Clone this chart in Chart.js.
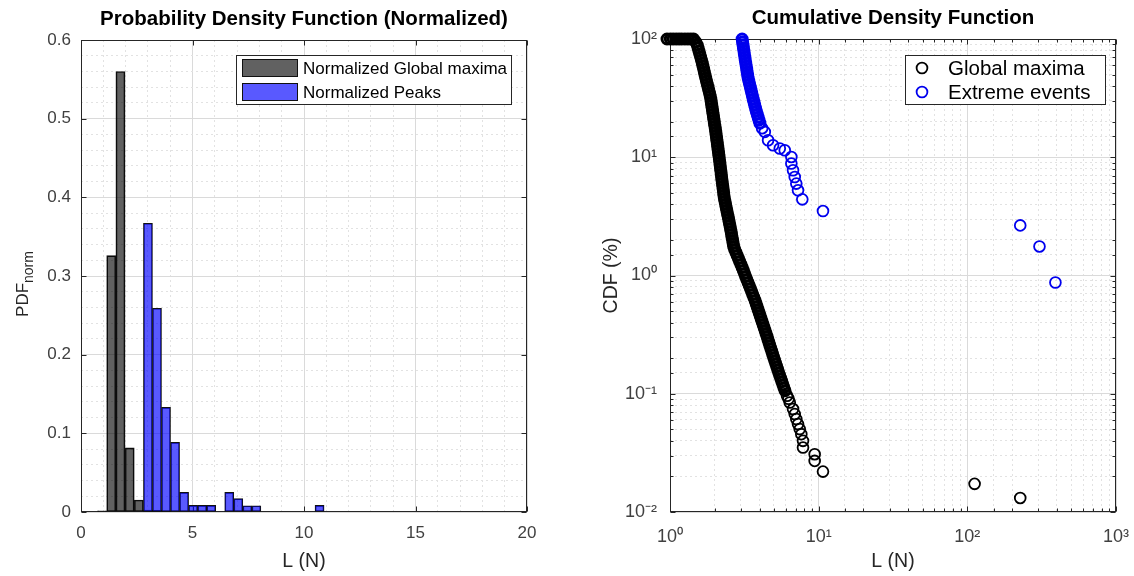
<!DOCTYPE html>
<html>
<head>
<meta charset="utf-8">
<title>PDF and CDF of L</title>
<script src="https://cdn.jsdelivr.net/npm/chart.js@4.4.1/dist/chart.umd.min.js"></script>
<style>
  html, body { margin: 0; padding: 0; background: #fff; }
  #wrap { position: relative; width: 1134px; height: 576px; }
  #wrap canvas { position: absolute; top: 0; }
  #pdfChart { left: 0; }
  #cdfChart { left: 567px; }
</style>
</head>
<body>
<div id="wrap">
  <canvas id="pdfChart" width="567" height="576"></canvas>
  <canvas id="cdfChart" width="567" height="576"></canvas>
</div>
<script>
// ---- histogram (left): bin centres in N and normalised pdf ----
const gmBinCenters = [0.946, 1.358, 1.770, 2.182, 2.594, 3.006, 3.418, 3.830];
const gmPdf = [0.0015, 0.326, 0.560, 0.0815, 0.0152, 0.0025, 0.002, 0.001];

const peakBinCenters = [3.0025, 3.4075, 3.8125, 4.2175, 4.6225, 5.0275, 5.4325, 5.8375,
  6.6475, 7.0525, 7.4575, 7.8625, 10.6975];
const peakPdf = [0.367, 0.259, 0.133, 0.0886, 0.025, 0.0085, 0.0085, 0.0085,
  0.025, 0.017, 0.008, 0.008, 0.0085];

// ---- CDF (right): load L (N) and CDF in % ----
const gmL = [
  0.955, 1.005, 1.05, 1.10, 1.15, 1.20, 1.26, 1.32, 1.38, 1.44,
  1.490, 1.525, 1.545, 1.565, 1.585, 1.606, 1.627, 1.648, 1.665, 1.684,
  1.702, 1.720, 1.739, 1.759, 1.780, 1.802, 1.821, 1.844, 1.864, 1.882,
  1.896, 1.908, 1.923, 1.935, 1.950, 1.962, 1.977, 1.989, 2.005, 2.020,
  2.033, 2.045, 2.058, 2.071, 2.084, 2.097, 2.110, 2.123, 2.136, 2.149,
  2.163, 2.174, 2.186, 2.200, 2.213, 2.224, 2.237, 2.251, 2.265, 2.279,
  2.293, 2.304, 2.321, 2.343, 2.365, 2.387, 2.409, 2.432, 2.459, 2.481,
  2.504, 2.527, 2.551, 2.575, 2.595, 2.615, 2.639, 2.660, 2.680, 2.722,
  2.777, 2.829, 2.886, 2.940, 3.000, 3.056, 3.113, 3.172, 3.226, 3.287,
  3.349, 3.411, 3.475, 3.540, 3.601, 3.668, 3.737, 3.795, 3.854, 3.914,
  3.975, 4.037, 4.100, 4.164, 4.229, 4.295, 4.362, 4.430, 4.499, 4.562,
  4.633, 4.698, 4.771, 4.846, 4.913, 4.990, 5.067, 5.146, 5.227, 5.308,
  5.391, 5.475, 5.569, 5.655, 5.751, 5.841, 5.941,
  6.128, 6.271, 6.389, 6.723, 6.902, 7.073, 7.262, 7.456, 7.643, 7.846,
  7.846, 9.400, 9.400, 10.69, 111.9, 226.9
];
const gmCdf = [
  100, 100, 100, 100, 100, 100, 100, 100, 100, 100,
  94.32, 88.96, 83.90, 79.14, 74.64, 70.40, 66.40, 62.63, 59.07, 55.71,
  52.53, 49.54, 46.73, 44.07, 41.57, 39.21, 36.98, 34.88, 32.90, 31.00,
  29.24, 27.58, 26.01, 24.53, 23.14, 21.82, 20.58, 19.41, 18.31, 17.28,
  16.30, 15.37, 14.50, 13.67, 12.90, 12.16, 11.47, 10.82, 10.21, 9.617,
  9.071, 8.555, 8.069, 7.611, 7.178, 6.770, 6.386, 6.023, 5.681, 5.356,
  5.052, 4.765, 4.494, 4.239, 3.998, 3.771, 3.556, 3.354, 3.164, 2.983,
  2.814, 2.654, 2.503, 2.361, 2.227, 2.100, 1.981, 1.868, 1.762, 1.661,
  1.567, 1.478, 1.394, 1.315, 1.240, 1.170, 1.103, 1.040, 0.981, 0.925,
  0.8724, 0.8228, 0.7761, 0.7320, 0.6904, 0.6512, 0.6142, 0.5793, 0.5464, 0.5150,
  0.4857, 0.4581, 0.4321, 0.4076, 0.3844, 0.3626, 0.3420, 0.3225, 0.3042, 0.2868,
  0.2705, 0.2551, 0.2406, 0.2270, 0.2141, 0.2019, 0.1904, 0.1796, 0.1694, 0.1597,
  0.1506, 0.1421, 0.1340, 0.1264, 0.1192, 0.1124, 0.1060,
  0.09617, 0.09072, 0.08435, 0.07420, 0.06730, 0.06104, 0.05536, 0.05022, 0.04555, 0.03996,
  0.03507, 0.03083, 0.02704, 0.02196, 0.0173, 0.01315
];

const eeL = [
  3.056, 3.075, 3.099, 3.118, 3.143, 3.162, 3.187, 3.206, 3.231, 3.256,
  3.281, 3.302, 3.328, 3.354, 3.390, 3.427, 3.470, 3.507, 3.545, 3.584,
  3.628, 3.673, 3.713, 3.760, 3.806, 3.860, 3.914, 3.968, 4.024,
  4.164, 4.341, 4.569, 4.935, 5.475, 5.913, 6.550, 6.550, 6.723, 6.902,
  7.073, 7.262, 7.761, 10.69, 226.9, 305.7, 391.3
];
const eeCdf = [
  100, 94.32, 88.96, 83.90, 79.14, 74.64, 70.40, 66.40, 62.63, 59.07,
  55.71, 52.53, 49.54, 46.73, 44.07, 41.57, 39.21, 36.98, 34.88, 32.90,
  31.00, 29.24, 27.58, 26.01, 24.53, 23.14, 21.82, 20.58, 19.41,
  17.61, 16.39, 13.93, 12.64, 11.85, 11.47, 10.06, 8.845, 7.759, 6.809,
  5.987, 5.252, 4.406, 3.507, 2.653, 1.761, 0.8724
];

const pdfXTicks = { min: 0, max: 20, step: 1, major: 5 };
const pdfYTicks = { min: 0, max: 0.6, step: 0.02, major: 0.1 };

// ---- look ----
const FAMILY = '"Liberation Sans", Arial, Helvetica, sans-serif';
Chart.defaults.font.family = FAMILY;
Chart.defaults.animation = false;

const axisInk = '#262626';
const tickInk = '#404040';
const gridMajor = '#dadada';
const gridMinor = '#e2e2e2';

const onStep = (v, s) => Math.abs(v / s - Math.round(v / s)) < 1e-6;
const isDecade = v => Math.abs(Math.log10(v) - Math.round(Math.log10(v))) < 1e-6;
const supDigits = { '-': '\u207B', '0': '\u2070', '1': '\u00B9', '2': '\u00B2', '3': '\u00B3' };
const decadeLabel = v => isDecade(v)
  ? '10' + String(Math.round(Math.log10(v))).split('').map(c => supDigits[c]).join('')
  : '';

function gridStyle(isMajor) {
  return {
    grid: {
      offset: false,
      drawTicks: false,
      color: ctx => (ctx.tick && isMajor(ctx.tick.value)) ? gridMajor : gridMinor
    },
    border: {
      display: false,
      dash: ctx => (ctx.tick && !isMajor(ctx.tick.value)) ? [2, 3] : []
    }
  };
}

// keep the plot box exactly where the layout puts it (no label overflow padding)
const fixedBox = size => s => {
  if (s.isHorizontal()) s.height = size; else s.width = size;
  s.paddingLeft = 0;
  s.paddingRight = 0;
  s.paddingTop = 0;
  s.paddingBottom = 0;
};

// axes box like matlab "box on", with inward tick marks
const axesFrame = {
  id: 'axesFrame',
  beforeDatasetsDraw(chart, args, o) {
    const { ctx, chartArea: a } = chart;
    const L = a.left + 0.5, R = a.right - 0.5, T = a.top + 0.5, B = a.bottom - 0.5;
    ctx.save();
    ctx.strokeStyle = axisInk;
    ctx.lineWidth = 1;
    ctx.beginPath();
    const sx = chart.scales.x, sy = chart.scales.y;
    sx.ticks.forEach((t, i) => {
      const major = t.label !== '';
      if (!major && !o.minor) return;
      const len = major ? 5 : 3;
      const px = Math.round(sx.getPixelForTick(i)) + 0.5;
      ctx.moveTo(px, B); ctx.lineTo(px, B - len);
      ctx.moveTo(px, T); ctx.lineTo(px, T + len);
    });
    sy.ticks.forEach((t, i) => {
      const major = t.label !== '';
      if (!major && !o.minor) return;
      const len = major ? 5 : 3;
      const py = Math.round(sy.getPixelForTick(i)) + 0.5;
      ctx.moveTo(L, py); ctx.lineTo(L + len, py);
      ctx.moveTo(R, py); ctx.lineTo(R - len, py);
    });
    ctx.stroke();
    ctx.strokeRect(L, T, R - L, B - T);
    ctx.restore();
  }
};

// legend drawn inside the axes, top right, with a white box
const boxLegend = {
  id: 'boxLegend',
  afterDatasetsDraw(chart, args, o) {
    const { ctx, chartArea: a } = chart;
    const x0 = Math.round(a.right - o.right - o.width);
    const y0 = Math.round(a.top + o.top);
    ctx.save();
    ctx.fillStyle = '#fff';
    ctx.fillRect(x0, y0, o.width, o.height);
    ctx.strokeStyle = axisInk;
    ctx.lineWidth = 1;
    ctx.strokeRect(x0 + 0.5, y0 + 0.5, o.width - 1, o.height - 1);
    ctx.font = o.fontSize + 'px ' + FAMILY;
    ctx.textBaseline = 'middle';
    chart.data.datasets.forEach((ds, i) => {
      const cy = y0 + o.rows[i];
      if (o.symbol === 'box') {
        ctx.fillStyle = ds.backgroundColor;
        ctx.fillRect(x0 + o.symbolX, cy - 9, 56, 18);
        ctx.strokeStyle = ds.borderColor;
        ctx.lineWidth = 1;
        ctx.strokeRect(x0 + o.symbolX + 0.5, cy - 8.5, 55, 17);
      } else {
        ctx.beginPath();
        ctx.arc(x0 + o.symbolX, cy, o.markerRadius, 0, Math.PI * 2);
        ctx.strokeStyle = ds.borderColor;
        ctx.lineWidth = o.markerWidth;
        ctx.stroke();
      }
      ctx.fillStyle = '#000';
      ctx.fillText(ds.label, x0 + o.textX, cy + 1);
    });
    ctx.restore();
  }
};

// rotated y label with a subscript (PDF_norm)
const subLabel = {
  id: 'subLabel',
  afterDraw(chart, args, o) {
    const { ctx, chartArea: a } = chart;
    ctx.save();
    ctx.translate(o.x, (a.top + a.bottom) / 2 + o.dy);
    ctx.rotate(-Math.PI / 2);
    ctx.fillStyle = axisInk;
    ctx.textBaseline = 'alphabetic';
    const big = o.size + 'px ' + FAMILY;
    const small = o.subSize + 'px ' + FAMILY;
    ctx.font = big;
    const w1 = ctx.measureText(o.text).width;
    ctx.font = small;
    const w2 = ctx.measureText(o.sub).width;
    const start = -(w1 + w2) / 2;
    ctx.font = big;
    ctx.fillText(o.text, start, 0);
    ctx.font = small;
    ctx.fillText(o.sub, start + w1, o.subDrop);
    ctx.restore();
  }
};

// ---------- left: PDF histogram ----------
const pdfX = gridStyle(v => onStep(v, pdfXTicks.major));
const pdfY = gridStyle(v => onStep(v, pdfYTicks.major));

new Chart(document.getElementById('pdfChart'), {
  type: 'bar',
  data: {
    datasets: [{
      label: 'Normalized Global maxima',
      data: gmBinCenters.map((c, i) => ({ x: c, y: gmPdf[i] })),
      xAxisID: 'x',
      backgroundColor: 'rgba(0,0,0,0.62)',
      borderColor: '#111',
      borderWidth: 1,
      borderSkipped: false,
      barPercentage: 1,
      categoryPercentage: 1,
      grouped: false,
      order: 2
    }, {
      label: 'Normalized Peaks',
      data: peakBinCenters.map((c, i) => ({ x: c, y: peakPdf[i] })),
      xAxisID: 'xPeaks',
      backgroundColor: 'rgba(0,0,255,0.65)',
      borderColor: '#111',
      borderWidth: 1,
      borderSkipped: false,
      barPercentage: 1,
      categoryPercentage: 1,
      grouped: false,
      order: 1
    }]
  },
  options: {
    responsive: false,
    events: [],
    layout: { padding: { left: 0, right: 40, top: 0, bottom: 0 } },
    plugins: {
      legend: { display: false },
      tooltip: { enabled: false },
      title: {
        display: true,
        text: 'Probability Density Function (Normalized)',
        color: '#000',
        font: { size: 20.5, weight: 'bold' },
        padding: { top: 7, bottom: 8.4 },
        fullSize: false
      },
      axesFrame: { minor: false },
      boxLegend: { right: 15, top: 15, width: 276, height: 50, rows: [13, 37],
        symbolX: 6, textX: 67, fontSize: 17, symbol: 'box' },
      subLabel: { x: 28, dy: 8, text: 'PDF', sub: 'norm', size: 17, subSize: 14, subDrop: 5 }
    },
    scales: {
      x: {
        type: 'linear',
        position: 'bottom',
        min: pdfXTicks.min,
        max: pdfXTicks.max,
        offset: false,
        ...pdfX,
        ticks: {
          stepSize: pdfXTicks.step,
          autoSkip: false,
          maxRotation: 0,
          padding: 11,
          color: tickInk,
          font: { size: 17 },
          callback: v => onStep(v, pdfXTicks.major) ? String(v) : ''
        },
        title: {
          display: true,
          text: 'L (N)',
          color: axisInk,
          font: { size: 19.5 },
          padding: { top: 0, bottom: 2.3 }
        },
        afterFit: fixedBox(64)
      },
      xPeaks: {
        type: 'linear',
        display: false,
        min: pdfXTicks.min,
        max: pdfXTicks.max,
        offset: false,
        grid: { offset: false }
      },
      y: {
        type: 'linear',
        min: pdfYTicks.min,
        max: pdfYTicks.max,
        ...pdfY,
        ticks: {
          stepSize: pdfYTicks.step,
          autoSkip: false,
          padding: 10,
          color: tickInk,
          font: { size: 17 },
          callback: v => onStep(v, pdfYTicks.major) ? (v === 0 ? '0' : v.toFixed(1)) : ''
        },
        afterFit: fixedBox(81)
      }
    }
  },
  plugins: [axesFrame, boxLegend, subLabel]
});

// ---------- right: CDF, log-log ----------
const cdfGrid = gridStyle(isDecade);

// where the markers pile up into a solid band, draw them with a heavier ring
const scatterStyle = (color, denseCount) => ({
  borderColor: color,
  backgroundColor: 'rgba(0,0,0,0)',
  pointStyle: 'circle',
  pointRadius: ctx => ctx.dataIndex < denseCount ? 5 : 5.4,
  pointBorderWidth: ctx => ctx.dataIndex < denseCount ? 3 : 1.8,
  borderWidth: 1.8,
  clip: false
});

new Chart(document.getElementById('cdfChart'), {
  type: 'scatter',
  data: {
    datasets: [{
      label: 'Global maxima',
      data: gmL.map((l, i) => ({ x: l, y: gmCdf[i] })),
      ...scatterStyle('#000000', 127)
    }, {
      label: 'Extreme events',
      data: eeL.map((l, i) => ({ x: l, y: eeCdf[i] })),
      ...scatterStyle('#0000ee', 29)
    }]
  },
  options: {
    responsive: false,
    events: [],
    layout: { padding: { left: 0, right: 18, top: 0, bottom: 0 } },
    plugins: {
      legend: { display: false },
      tooltip: { enabled: false },
      title: {
        display: true,
        text: 'Cumulative Density Function',
        color: '#000',
        font: { size: 20.5, weight: 'bold' },
        padding: { top: 6, bottom: 8.4 },
        fullSize: false
      },
      axesFrame: { minor: true },
      boxLegend: { right: 10, top: 16, width: 201, height: 50, rows: [13, 37],
        symbolX: 17, textX: 43, fontSize: 20.5, symbol: 'point',
        markerRadius: 5.4, markerWidth: 1.8 }
    },
    scales: {
      x: {
        type: 'logarithmic',
        min: 1,
        max: 1000,
        ...cdfGrid,
        ticks: {
          autoSkip: false,
          maxRotation: 0,
          padding: 14,
          color: tickInk,
          font: { size: 18 },
          callback: decadeLabel
        },
        title: {
          display: true,
          text: 'L (N)',
          color: axisInk,
          font: { size: 19.5 },
          padding: { top: 0, bottom: 2.3 }
        },
        afterFit: fixedBox(64)
      },
      y: {
        type: 'logarithmic',
        min: 0.01,
        max: 100,
        ...cdfGrid,
        ticks: {
          autoSkip: false,
          padding: 13,
          color: tickInk,
          font: { size: 18 },
          callback: decadeLabel
        },
        title: {
          display: true,
          text: 'CDF (%)',
          color: axisInk,
          font: { size: 19.5 },
          padding: { top: 33.3, bottom: 0 }
        },
        afterFit: fixedBox(103)
      }
    }
  },
  plugins: [axesFrame, boxLegend]
});
</script>
</body>
</html>
